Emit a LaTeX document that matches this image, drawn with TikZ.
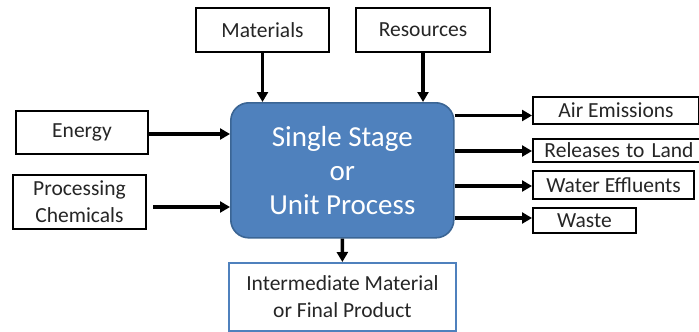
\documentclass[tikz,border=0pt]{standalone}
\usepackage{fontspec}
\setmainfont{Carlito}
\usetikzlibrary{arrows.meta,calc}
\definecolor{coreblue}{HTML}{4F81BD}
\definecolor{coreedge}{HTML}{3B6594}
\definecolor{txt}{HTML}{262626}
\tikzset{
  lbox/.style={draw=black, line width=2pt, fill=white, rectangle, inner sep=0pt,
    anchor=north west, align=center, text=txt, font=\fontsize{21.5}{27}\selectfont},
  pbox/.style={lbox, draw=coreblue, line width=1.8pt},
  core/.style={draw=coreedge, line width=1.6pt, fill=coreblue, rounded corners=18pt,
    rectangle, inner sep=0pt, anchor=north west, align=center, text=white,
    font=\fontsize{29}{34}\selectfont},
  arr/.style={line width=3.4pt, -{Triangle[length=10pt,width=11pt]}}
}
\begin{document}
\begin{tikzpicture}[x=1pt,y=-1pt]
\useasboundingbox (0,0) rectangle (699,332);
\clip (0,0) rectangle (699,332);
% central process
\node[core, minimum width=223pt, minimum height=135pt] (core) at (230,102)
  {Single Stage\\or\\Unit Process};
% inputs
\node[lbox, minimum width=133pt, minimum height=44pt] (mat) at (195,7) {Materials};
\node[lbox, minimum width=134pt, minimum height=44pt] (res) at (355,7) {Resources};
\node[lbox, minimum width=132pt, minimum height=43pt] (en) at (15,110) {Energy};
\node[lbox, minimum width=133pt, minimum height=54pt] (pc) at (12,174) {Processing\\Chemicals};
% outputs
\node[lbox, minimum width=166pt, minimum height=27pt] (ae) at (532,96) {Air Emissions};
\node[lbox, minimum width=172pt, minimum height=23pt, text width=165pt] (rl) at (532,138) {Releases\kern-1pt{} to Land};
\node[lbox, minimum width=161pt, minimum height=28pt] (we) at (532,170) {Water Effluents};
\node[lbox, minimum width=103pt, minimum height=25pt] (wa) at (532,207) {Waste};
\node[pbox, minimum width=227pt, minimum height=68pt] (ip) at (228,262)
  {Intermediate Material\\or Final Product};
% connectors
\draw[arr] (mat.south) -- (mat.south |- core.north);
\draw[arr] (res.south) -- (res.south |- core.north);
\draw[arr] ([yshift=-1.5pt]en.east) -- ([yshift=-1.5pt]en.east -| core.west);
\draw[arr] ([xshift=6pt,yshift=-5pt]pc.east) -- ([yshift=-5pt]pc.east -| core.west);
\draw[arr] ([yshift=-5pt]ae.west -| core.east) -- ([yshift=-5pt]ae.west);
\draw[arr] ([yshift=-0.5pt]rl.west -| core.east) -- ([yshift=-0.5pt]rl.west);
\draw[arr] ([yshift=-1pt]we.west -| core.east) -- ([yshift=-1pt]we.west);
\draw[arr] ([yshift=2.5pt]wa.west -| core.east) -- ([yshift=2.5pt]wa.west);
\draw[arr] (core.south) -- (ip.north);
\end{tikzpicture}
\end{document}
